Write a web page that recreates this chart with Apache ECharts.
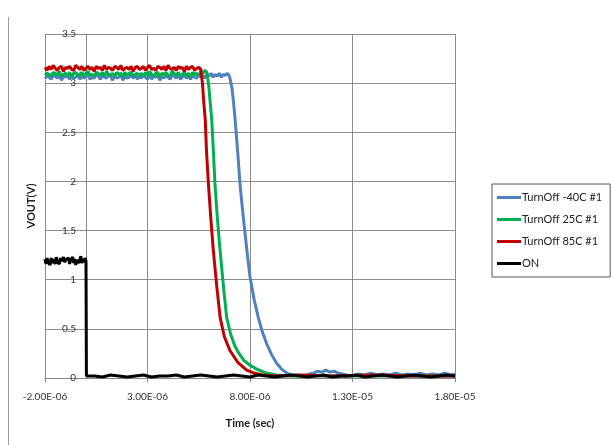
<!DOCTYPE html>
<html>
<head>
<meta charset="utf-8">
<script src="https://cdn.jsdelivr.net/npm/echarts@6/dist/echarts.min.js"></script>
<style>
  html, body { margin: 0; padding: 0; background: #fff; }
  #chart { width: 613px; height: 445px; }
</style>
</head>
<body>
<div id="chart"></div>
<script>
// Time values are in microseconds, voltages in volts.
const seriesNames = ['TurnOff -40C #1', 'TurnOff 25C #1', 'TurnOff 85C #1', 'ON'];
const seriesColors = ['#4F81BD', '#00B050', '#C00000', '#000000'];

const turnOffM40 = [
  [-2.0,3.05],[-1.9,3.07],[-1.8,3.06],[-1.7,3.04],[-1.6,3.08],[-1.5,3.07],[-1.4,3.05],[-1.3,3.08],
  [-1.2,3.03],[-1.1,3.07],[-1.0,3.06],[-0.9,3.08],[-0.8,3.04],[-0.7,3.07],[-0.6,3.05],[-0.5,3.06],
  [-0.4,3.09],[-0.3,3.04],[-0.2,3.08],[-0.1,3.05],[0.0,3.07],[0.1,3.08],[0.2,3.04],[0.3,3.06],
  [0.4,3.05],[0.5,3.09],[0.6,3.07],[0.7,3.04],[0.8,3.08],[0.9,3.06],[1.0,3.05],[1.1,3.08],
  [1.2,3.07],[1.3,3.03],[1.4,3.08],[1.5,3.05],[1.6,3.06],[1.7,3.08],[1.8,3.03],[1.9,3.07],
  [2.0,3.05],[2.1,3.06],[2.2,3.08],[2.3,3.05],[2.4,3.09],[2.5,3.04],[2.6,3.07],[2.7,3.05],
  [2.8,3.08],[2.9,3.06],[3.0,3.04],[3.1,3.09],[3.2,3.04],[3.3,3.07],[3.4,3.06],[3.5,3.08],
  [3.6,3.03],[3.7,3.07],[3.8,3.05],[3.9,3.08],[4.0,3.06],[4.1,3.04],[4.2,3.08],[4.3,3.07],
  [4.4,3.05],[4.5,3.09],[4.6,3.04],[4.7,3.06],[4.8,3.08],[4.9,3.05],[5.0,3.07],[5.1,3.04],
  [5.2,3.08],[5.3,3.06],[5.4,3.05],[5.5,3.09],[5.6,3.06],[5.7,3.08],[5.8,3.05],[5.9,3.09],
  [6.0,3.07],[6.1,3.10],[6.2,3.06],[6.3,3.09],[6.4,3.07],[6.5,3.10],[6.6,3.06],[6.7,3.09],
  [6.8,3.08],[6.9,3.10],[7.0,3.07],
  [7.06,3.07],[7.12,2.95],[7.2,2.80],[7.27,2.64],[7.40,2.30],[7.51,1.98],[7.63,1.72],[7.76,1.47],
  [7.88,1.24],[8.0,1.03],[8.2,0.80],[8.4,0.62],[8.6,0.47],[8.81,0.35],[9.05,0.24],[9.3,0.15],
  [9.55,0.09],[9.8,0.05],[10.0,0.03],[10.3,0.03],[10.6,0.02],[10.9,0.04],[11.1,0.05],[11.3,0.07],
  [11.5,0.06],[11.7,0.08],[11.9,0.06],[12.1,0.07],[12.3,0.05],[12.5,0.04],[12.7,0.03],[13.0,0.02],
  [13.3,0.04],[13.6,0.03],[13.9,0.05],[14.2,0.03],[14.5,0.04],[14.8,0.03],[15.1,0.05],[15.4,0.03],
  [15.7,0.04],[16.0,0.03],[16.3,0.05],[16.6,0.03],[16.9,0.04],[17.2,0.03],[17.5,0.05],[17.8,0.03],
  [18.0,0.04]
];

const turnOff25 = [
  [-2.0,3.08],[-1.9,3.10],[-1.8,3.09],[-1.7,3.07],[-1.6,3.11],[-1.5,3.10],[-1.4,3.08],[-1.3,3.12],
  [-1.2,3.07],[-1.1,3.09],[-1.0,3.10],[-0.9,3.08],[-0.8,3.11],[-0.7,3.06],[-0.6,3.10],[-0.5,3.11],
  [-0.4,3.08],[-0.3,3.09],[-0.2,3.11],[-0.1,3.07],[0.0,3.10],[0.1,3.12],[0.2,3.08],[0.3,3.09],
  [0.4,3.07],[0.5,3.11],[0.6,3.10],[0.7,3.08],[0.8,3.11],[0.9,3.07],[1.0,3.12],[1.1,3.09],
  [1.2,3.08],[1.3,3.10],[1.4,3.07],[1.5,3.11],[1.6,3.09],[1.7,3.10],[1.8,3.06],[1.9,3.11],
  [2.0,3.08],[2.1,3.10],[2.2,3.11],[2.3,3.07],[2.4,3.09],[2.5,3.10],[2.6,3.08],[2.7,3.10],
  [2.8,3.07],[2.9,3.11],[3.0,3.08],[3.1,3.12],[3.2,3.09],[3.3,3.07],[3.4,3.10],[3.5,3.11],
  [3.6,3.06],[3.7,3.10],[3.8,3.09],[3.9,3.11],[4.0,3.08],[4.1,3.07],[4.2,3.12],[4.3,3.10],
  [4.4,3.08],[4.5,3.11],[4.6,3.07],[4.7,3.09],[4.8,3.11],[4.9,3.08],[5.0,3.10],[5.1,3.06],
  [5.2,3.11],[5.3,3.09],[5.4,3.10],[5.5,3.07],[5.6,3.12],[5.7,3.10],[5.8,3.13],[5.9,3.11],
  [5.95,3.12],[6.0,2.95],[6.06,2.80],[6.13,2.64],[6.21,2.32],[6.29,1.98],[6.41,1.62],[6.54,1.30],
  [6.70,0.94],[6.86,0.62],[7.05,0.45],[7.25,0.33],[7.43,0.26],[7.7,0.18],[8.0,0.13],[8.33,0.09],
  [8.8,0.05],[9.3,0.03],[9.8,0.02],[12.0,0.02],[15.0,0.02],[18.0,0.02]
];

const turnOff85 = [
  [-2.0,3.16],[-1.9,3.13],[-1.8,3.17],[-1.7,3.14],[-1.6,3.18],[-1.5,3.15],[-1.4,3.13],[-1.3,3.16],
  [-1.2,3.17],[-1.1,3.12],[-1.0,3.16],[-0.9,3.15],[-0.8,3.17],[-0.7,3.14],[-0.6,3.13],[-0.5,3.18],
  [-0.4,3.16],[-0.3,3.14],[-0.2,3.17],[-0.1,3.13],[0.0,3.15],[0.1,3.17],[0.2,3.14],[0.3,3.16],
  [0.4,3.12],[0.5,3.17],[0.6,3.15],[0.7,3.16],[0.8,3.13],[0.9,3.18],[1.0,3.14],[1.1,3.16],
  [1.2,3.15],[1.3,3.13],[1.4,3.17],[1.5,3.16],[1.6,3.14],[1.7,3.18],[1.8,3.13],[1.9,3.15],
  [2.0,3.16],[2.1,3.14],[2.2,3.17],[2.3,3.12],[2.4,3.16],[2.5,3.17],[2.6,3.14],[2.7,3.15],
  [2.8,3.17],[2.9,3.13],[3.0,3.16],[3.1,3.18],[3.2,3.14],[3.3,3.15],[3.4,3.13],[3.5,3.17],
  [3.6,3.16],[3.7,3.14],[3.8,3.17],[3.9,3.13],[4.0,3.18],[4.1,3.15],[4.2,3.14],[4.3,3.16],
  [4.4,3.13],[4.5,3.17],[4.6,3.15],[4.7,3.16],[4.8,3.12],[4.9,3.17],[5.0,3.14],[5.1,3.16],
  [5.2,3.17],[5.3,3.13],[5.4,3.15],[5.5,3.16],[5.6,3.14],
  [5.68,3.00],[5.74,2.82],[5.82,2.62],[5.88,2.30],[5.97,1.98],[6.09,1.62],[6.21,1.30],[6.37,0.95],
  [6.54,0.62],[6.75,0.42],[7.02,0.28],[7.4,0.16],[7.84,0.08],[8.2,0.05],[8.63,0.03],[9.2,0.02],
  [10.5,0.03],[12.0,0.02],[14.0,0.03],[16.0,0.02],[18.0,0.02]
];

const onSignal = [
  [-2.00,1.21],[-1.95,1.16],[-1.90,1.22],[-1.85,1.18],[-1.80,1.20],[-1.75,1.15],[-1.70,1.22],
  [-1.65,1.17],[-1.60,1.21],[-1.55,1.19],[-1.50,1.16],[-1.45,1.23],[-1.40,1.18],[-1.35,1.20],
  [-1.30,1.16],[-1.25,1.22],[-1.20,1.19],[-1.15,1.17],[-1.10,1.23],[-1.05,1.18],[-1.00,1.16],
  [-0.95,1.21],[-0.90,1.19],[-0.85,1.22],[-0.80,1.16],[-0.75,1.20],[-0.70,1.18],[-0.65,1.23],
  [-0.60,1.17],[-0.55,1.21],[-0.50,1.15],[-0.45,1.20],[-0.40,1.22],[-0.35,1.17],[-0.30,1.19],
  [-0.25,1.24],[-0.20,1.17],[-0.15,1.21],[-0.10,1.18],[-0.05,1.22],[0.00,1.19],[0.02,0.02],
  [0.4,0.02],[0.8,0.01],[1.2,0.03],[1.6,0.02],[2.0,0.01],[2.4,0.02],[2.8,0.03],[3.2,0.01],
  [3.6,0.02],[4.0,0.02],[4.4,0.03],[4.8,0.01],[5.2,0.02],[5.6,0.03],[6.0,0.02],[6.4,0.01],
  [6.8,0.02],[7.2,0.03],[7.6,0.02],[8.0,0.01],[8.4,0.03],[8.8,0.02],[9.2,0.01],[9.6,0.02],
  [10.0,0.03],[10.4,0.02],[10.8,0.01],[11.2,0.02],[11.6,0.03],[12.0,0.01],[12.4,0.02],[12.8,0.02],
  [13.2,0.03],[13.6,0.01],[14.0,0.02],[14.4,0.03],[14.8,0.02],[15.2,0.01],[15.6,0.02],[16.0,0.03],
  [16.4,0.02],[16.8,0.01],[17.2,0.02],[17.6,0.03],[18.0,0.02]
];

const seriesData = [turnOffM40, turnOff25, turnOff85, onSignal];

// Axis ranges (x in microseconds)
const xMin = -2, xMax = 18, xStep = 5;
const yMin = 0, yMax = 3.5, yStep = 0.5;

// Plot box
const gridLeft = 45, gridRight = 158, gridTop = 34, gridBottom = 67;
const plotWidth = 613 - gridLeft - gridRight;
// the vertical axis crosses the time axis at t = 0
const yAxisShift = (0 - xMin) / (xMax - xMin) * plotWidth;

const FONT = 'Lato, "Liberation Sans", sans-serif';

// microseconds -> "3.00E-06" style seconds label
function sciLabel(us) {
  const s = us * 1e-6;
  const parts = s.toExponential(2).split('e');
  const exp = parseInt(parts[1], 10);
  const sign = exp < 0 ? '-' : '+';
  return parts[0] + 'E' + sign + String(Math.abs(exp)).padStart(2, '0');
}

const chart = echarts.init(document.getElementById('chart'), null, { renderer: 'canvas' });

chart.setOption({
  animation: false,
  backgroundColor: '#ffffff',
  textStyle: { fontFamily: FONT },
  grid: { left: gridLeft, right: gridRight, top: gridTop, bottom: gridBottom, containLabel: false, outerBoundsMode: 'none' },
  graphic: [{
    type: 'line',
    shape: { x1: 8.5, y1: 17, x2: 8.5, y2: 445 },
    style: { stroke: '#9a9a9a', lineWidth: 1 },
    silent: true
  }],
  legend: {
    orient: 'vertical',
    left: 492,
    top: 184,
    data: seriesNames,
    icon: 'rect',
    itemWidth: 24,
    itemHeight: 3,
    itemGap: 11,
    padding: [8, 8, 8, 5],
    borderColor: '#555555',
    borderWidth: 1,
    textStyle: { fontFamily: FONT, fontSize: 11, color: '#222222', padding: [0, 0, 0, -4] }
  },
  xAxis: {
    type: 'value',
    min: xMin, max: xMax, interval: xStep,
    name: 'Time (sec)',
    nameLocation: 'middle',
    nameGap: 40,
    nameTextStyle: { fontFamily: FONT, fontSize: 11, fontWeight: 'bold', color: '#222222' },
    axisLine: { show: true, onZero: false, lineStyle: { color: '#868686', width: 1 } },
    axisTick: { show: true, length: 4, lineStyle: { color: '#868686' } },
    axisLabel: { fontFamily: FONT, fontSize: 10, color: '#333333', margin: 14, formatter: sciLabel },
    splitLine: { show: true, lineStyle: { color: '#8c8c8c', width: 1 } }
  },
  yAxis: {
    type: 'value',
    min: yMin, max: yMax, interval: yStep,
    position: 'left',
    offset: -yAxisShift,
    name: 'VOUT(V)',
    nameLocation: 'middle',
    nameGap: 49,
    nameTextStyle: { fontFamily: FONT, fontSize: 11, fontWeight: 'bold', color: '#222222' },
    axisLine: { show: true, onZero: false, lineStyle: { color: '#868686', width: 1 } },
    axisTick: { show: true, length: 4, lineStyle: { color: '#868686' } },
    axisLabel: { fontFamily: FONT, fontSize: 10, color: '#333333', margin: 10 },
    splitLine: { show: true, lineStyle: { color: '#8c8c8c', width: 1 } }
  },
  series: seriesNames.map((name, i) => ({
    name: name,
    type: 'line',
    data: seriesData[i],
    symbol: 'none',
    showSymbol: false,
    color: seriesColors[i],
    lineStyle: { color: seriesColors[i], width: 3 },
    z: 2 + i
  }))
});
</script>
</body>
</html>
